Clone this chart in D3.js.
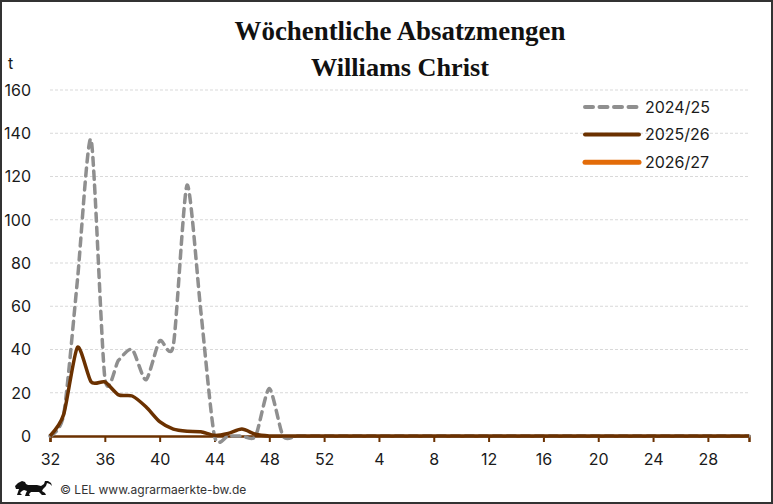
<!DOCTYPE html>
<html lang="de">
<head>
  <meta charset="UTF-8">
  <title>Wöchentliche Absatzmengen</title>
  <script src="https://cdn.jsdelivr.net/npm/d3@7"></script>
  <style>
    body { margin: 0; background: #fff; }
    svg { display: block; }
    .tick-label { font-family: Inter, "Liberation Sans", sans-serif; font-size: 16px; fill: #1a1a1a; }
    .chart-title { font-family: "Liberation Serif", "DejaVu Serif", serif; font-weight: bold; fill: #111; }
  </style>
</head>
<body>
<script>
  // Kalenderwochen Saison (KW 32 bis KW 31)
  const weeks = [32, 33, 34, 35, 36, 37, 38, 39, 40, 41, 42, 43, 44, 45, 46, 47, 48, 49, 50, 51, 52,
                 1, 2, 3, 4, 5, 6, 7, 8, 9, 10, 11, 12, 13, 14, 15, 16, 17, 18, 19, 20,
                 21, 22, 23, 24, 25, 26, 27, 28, 29, 30, 31];

  // Absatzmengen in t
  const s2024 = [0, 10, 72, 137, 27, 35, 40, 26, 44, 42, 116, 58, 0, 0, 0, 0, 22, 0, 0, 0, 0,
                 0, 0, 0, 0, 0, 0, 0, 0, 0, 0, 0, 0, 0, 0, 0, 0, 0, 0, 0, 0,
                 0, 0, 0, 0, 0, 0, 0, 0, 0, 0, 0];
  const s2025 = [0, 10, 41, 25, 25, 19, 18.5, 13.5, 6.6, 3.2, 2.2, 2, 0.3, 1.2, 3.2, 0.8, 0, 0, 0, 0, 0,
                 0, 0, 0, 0, 0, 0, 0, 0, 0, 0, 0, 0, 0, 0, 0, 0, 0, 0, 0, 0,
                 0, 0, 0, 0, 0, 0, 0, 0, 0, 0, 0];
  const s2026 = [];

  const seriesNames = ["2024/25", "2025/26", "2026/27"];
  const yTicks = [0, 20, 40, 60, 80, 100, 120, 140, 160];
  const xTickWeeks = [32, 36, 40, 44, 48, 52, 4, 8, 12, 16, 20, 24, 28];

  const width = 773, height = 504;
  const brown = "#6b3100", orange = "#e36c09", gray = "#8f8f8f";

  const svg = d3.select("body").append("svg")
    .attr("width", width)
    .attr("height", height);

  // Rahmen
  svg.append("rect")
    .attr("x", 1).attr("y", 1)
    .attr("width", width - 2).attr("height", height - 2)
    .attr("fill", "#fff")
    .attr("stroke", "#333")
    .attr("stroke-width", 2);

  // Scales
  const x = d3.scalePoint()
    .domain(d3.range(weeks.length))
    .range([50, 749]);

  const y = d3.scaleLinear()
    .domain([0, 160])
    .range([436, 90]);

  // Gitterlinien
  svg.append("g")
    .selectAll("line")
    .data(yTicks.filter(d => d > 0))
    .enter()
    .append("line")
    .attr("x1", 50).attr("x2", 749)
    .attr("y1", d => y(d)).attr("y2", d => y(d))
    .attr("stroke", "#d9d9d9")
    .attr("stroke-width", 1)
    .attr("stroke-dasharray", "3,2");

  // Y-Achse Beschriftung
  svg.append("g")
    .selectAll("text")
    .data(yTicks)
    .enter()
    .append("text")
    .attr("class", "tick-label")
    .attr("x", 31)
    .attr("y", d => y(d))
    .attr("dy", "0.36em")
    .attr("text-anchor", "end")
    .text(d => d);

  svg.append("text")
    .attr("class", "tick-label")
    .attr("x", 8).attr("y", 69)
    .text("t");

  // X-Achse
  const tickIdx = weeks.map((w, i) => i).filter(i => xTickWeeks.includes(weeks[i]) && i % 4 === 0);
  const axisX = d3.axisBottom(x)
    .tickValues(tickIdx)
    .tickSize(6)
    .tickPadding(12)
    .tickFormat(i => weeks[i]);

  const gx = svg.append("g")
    .attr("transform", "translate(0,436)")
    .call(axisX);
  gx.select(".domain").attr("stroke", brown).attr("stroke-width", 2.5);
  gx.selectAll(".tick line").attr("stroke", brown).attr("stroke-width", 2);
  gx.selectAll(".tick text")
    .attr("class", "tick-label")
    .attr("fill", "#1a1a1a");

  // Linien (geglaettet)
  const line = d3.line()
    .x((d, i) => x(i))
    .y(d => y(d))
    .curve(d3.curveCardinal.tension(0.3));

  svg.append("path")
    .datum(s2024)
    .attr("d", line)
    .attr("fill", "none")
    .attr("stroke", gray)
    .attr("stroke-width", 3.5)
    .attr("stroke-dasharray", "8,6")
    .attr("stroke-linecap", "round");

  svg.append("path")
    .datum(s2025)
    .attr("d", line)
    .attr("fill", "none")
    .attr("stroke", brown)
    .attr("stroke-width", 3.5)
    .attr("stroke-linejoin", "round");

  if (s2026.length) {
    svg.append("path")
      .datum(s2026)
      .attr("d", line)
      .attr("fill", "none")
      .attr("stroke", orange)
      .attr("stroke-width", 4);
  }

  // Legende
  const legendStyles = [
    { color: gray, width: 4, dash: "8,6.5" },
    { color: brown, width: 4, dash: null },
    { color: orange, width: 5, dash: null }
  ];
  const legend = svg.append("g");
  seriesNames.forEach((name, i) => {
    const ly = 107 + i * 27.6;
    const st = legendStyles[i];
    legend.append("line")
      .attr("x1", 585).attr("x2", 639)
      .attr("y1", ly).attr("y2", ly)
      .attr("stroke", st.color)
      .attr("stroke-width", st.width)
      .attr("stroke-linecap", "round")
      .attr("stroke-dasharray", st.dash);
    legend.append("text")
      .attr("class", "tick-label")
      .attr("x", 645).attr("y", ly)
      .attr("dy", "0.36em")
      .text(name);
  });

  // Titel
  const titleLines = ["Wöchentliche Absatzmengen", "Williams Christ"];
  const titleWidths = [331, 178];
  titleLines.forEach((t, i) => {
    const txt = svg.append("text")
      .attr("class", "chart-title")
      .attr("x", 400)
      .attr("y", 40 + i * 36)
      .attr("text-anchor", "middle")
      .style("font-size", "25px")
      .text(t);
    const w = txt.node().getComputedTextLength();
    if (w > 0) txt.style("font-size", (25 * titleWidths[i] / w).toFixed(2) + "px");
  });

  // Fusszeile mit Loewe
  const lion = svg.append("g").attr("transform", "translate(15,481)");
  lion.append("path")
    .attr("fill", "#111")
    .attr("d", "M0,5 L3,2 L7,0 L10,1 L11,3 L13,4 L22,4 L26,5 L29,3 L30,0 L33,0 L36,2 L37,5 L35,3 L32,2 L31,5 L28,8 " +
               "L27,10 L30,12 L31,14 L27,14 L24,11 L20,11 L16,11 L14,13 L15,15 L10,15 L11,12 L12,10 L9,9 L7,10 " +
               "L5,12 L7,14 L2,14 L3,11 L4,8 L1,8 Z");

  svg.append("text")
    .attr("x", 60).attr("y", 494)
    .style("font-family", "Inter, 'Liberation Sans', sans-serif")
    .style("font-size", "12px")
    .attr("fill", "#333")
    .text("© LEL www.agrarmaerkte-bw.de");
</script>
</body>
</html>
